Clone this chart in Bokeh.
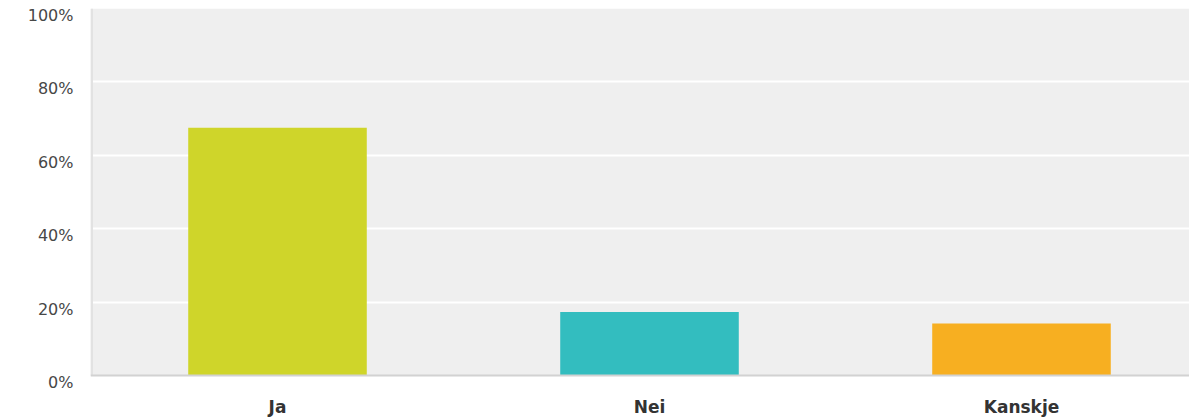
from bokeh.plotting import figure
from bokeh.models import (Range1d, FixedTicker, LinearAxis, BoxAnnotation, Span,
                          ColumnDataSource)
from bokeh.embed import file_html
from bokeh.resources import INLINE

# ---- data ----
categories = ["Ja", "Nei", "Kanskje"]
values = [67.5, 17.3, 14.2]
colors = ["#cfd52a", "#33bdbf", "#f7af21"]
y_ticks = [0, 20, 40, 60, 80, 100]
y_tick_labels = ["0%", "20%", "40%", "60%", "80%", "100%"]
grid_ticks = [20, 40, 60, 80]

# ---- layout constants ----
W, H = 1189, 419
LEFT = 90
TOP = 8
ZERO_Y = 377          # canvas y of the zero line
EXT_PX = 14           # white strip below the zero line (room for "0%")
LABEL_SHIFT_PX = 7    # y labels sit a bit below their gridlines
FRAME_BOTTOM = ZERO_Y + EXT_PX
ppu_y = (ZERO_Y - TOP) / 100.0
ext = EXT_PX / ppu_y
shift = LABEL_SHIFT_PX / ppu_y

CAT_PX = 372.0
x0 = -187.0 / CAT_PX
x1 = x0 + (W - LEFT) / CAT_PX

xs = list(range(len(categories)))
src = ColumnDataSource(dict(x=xs, top=values, color=colors))

p = figure(width=W, height=H, output_backend="svg", toolbar_location=None,
           x_range=Range1d(x0, x1), y_range=Range1d(-ext, 100),
           y_axis_location=None,
           min_border_left=LEFT, min_border_right=0, min_border_top=TOP,
           min_border_bottom=H - FRAME_BOTTOM)
p.background_fill_color = "white"
p.border_fill_color = "white"
p.outline_line_color = None

# plot area background
p.add_layout(BoxAnnotation(bottom=0, top=100, fill_color="#efefef", fill_alpha=1,
                           line_color=None, level="image"))
# left border shadow
p.add_layout(BoxAnnotation(left=x0, right=x0 + 2.5 / CAT_PX, bottom=0, top=100,
                           fill_color="#e2e2e2", fill_alpha=1, line_color=None,
                           level="underlay"))

p.xgrid.visible = False
p.ygrid.ticker = FixedTicker(ticks=grid_ticks)
p.ygrid.grid_line_color = "white"
p.ygrid.grid_line_width = 2

p.vbar(x="x", top="top", bottom=0, width=0.48, fill_color="color",
       line_color=None, source=src)

p.add_layout(Span(location=0, dimension="width", line_color="#d2d2d2",
                  line_width=2))

# y labels axis (shifted range so labels sit slightly below gridlines)
p.extra_y_ranges = {"lab": Range1d(-ext + shift, 100 + shift)}
lab_axis = LinearAxis(y_range_name="lab", ticker=FixedTicker(ticks=y_ticks),
                      major_label_overrides={t: l for t, l in zip(y_ticks, y_tick_labels)})
lab_axis.axis_line_color = None
lab_axis.major_tick_line_color = None
lab_axis.minor_tick_line_color = None
lab_axis.major_tick_out = 0
lab_axis.major_label_standoff = 17
lab_axis.major_label_text_font = "DejaVu Sans"
lab_axis.major_label_text_font_size = "16px"
lab_axis.major_label_text_color = "#474747"
p.add_layout(lab_axis, "left")

# x axis
xa = p.xaxis[0]
xa.ticker = FixedTicker(ticks=xs)
xa.major_label_overrides = {i: c for i, c in enumerate(categories)}
xa.axis_line_color = None
xa.major_tick_line_color = None
xa.minor_tick_line_color = None
xa.major_tick_out = 0
xa.major_label_standoff = 7
xa.major_label_text_font = "DejaVu Sans"
xa.major_label_text_font_style = "bold"
xa.major_label_text_font_size = "17px"
xa.major_label_text_color = "#333333"

open("out.html", "w").write(file_html(p, INLINE))
